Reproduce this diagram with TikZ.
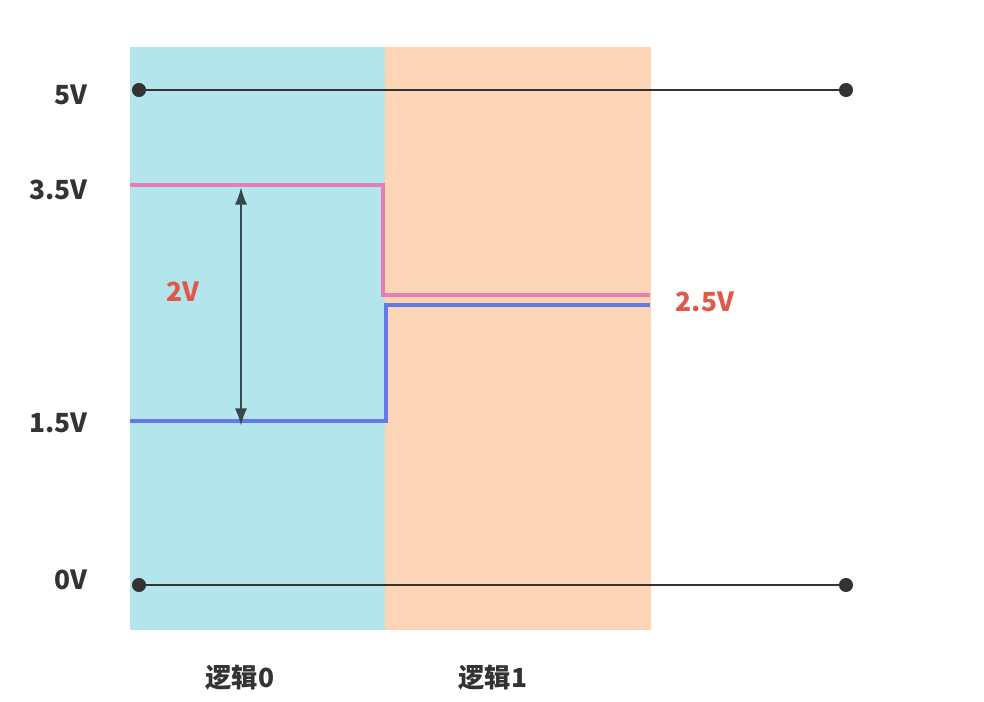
\documentclass[tikz,border=0pt]{standalone}
\usepackage{fontspec}
\setmainfont{Noto Sans CJK SC}
\usetikzlibrary{arrows.meta}
\definecolor{zonecyan}{HTML}{B3E5EC}
\definecolor{zoneorange}{HTML}{FBD5B5}
\definecolor{railgray}{HTML}{333333}
\definecolor{sigpink}{HTML}{E67DB3}
\definecolor{sigblue}{HTML}{6479E3}
\definecolor{labelred}{HTML}{E0584A}
\definecolor{spanslate}{HTML}{37474F}
\begin{document}
\begin{tikzpicture}[x=0.02cm,y=-0.02cm,line cap=round,line join=round]
  \tikzset{
    rail/.style={draw=railgray,line width=1.1pt},
    raildot/.style={circle,fill=railgray,inner sep=0pt,minimum size=8pt},
    level/.style={anchor=east,font=\bfseries\fontsize{15}{18}\selectfont,text=railgray},
    note/.style={font=\bfseries\fontsize{15}{18}\selectfont,text=labelred},
    zone/.style={font=\bfseries\fontsize{15}{18}\selectfont,text=railgray},
    signal/.style={line width=1.9pt,line cap=butt,line join=miter}
  }
  \useasboundingbox (0,0) rectangle (984,702);
  % background zones for the two logic levels
  \fill[zonecyan] (130,47) rectangle (385,630);
  \fill[zoneorange] (385,47) rectangle (651,630);
  % supply rails
  \node[raildot] (top-l) at (139,90) {};
  \node[raildot] (top-r) at (846,90) {};
  \node[raildot] (gnd-l) at (139,585) {};
  \node[raildot] (gnd-r) at (846,585) {};
  \draw[rail] (top-l) -- (top-r);
  \draw[rail] (gnd-l) -- (gnd-r);
  % voltage labels on the left
  \node[level] (v5) at (94,95) {5V};
  \node[level] (v35) at (94,190) {3.5V};
  \node[level] (v15) at (94,423) {1.5V};
  \node[level] (v0) at (94,580) {0V};
  % the two signal traces
  \coordinate (pink-a) at (130,185);
  \coordinate (pink-b) at (650,295);
  \coordinate (blue-a) at (130,421);
  \coordinate (blue-b) at (650,305);
  \draw[signal,sigpink] (pink-a) -- (383,185) |- (pink-b);
  \draw[signal,sigblue] (blue-a) -- (386,421) |- (blue-b);
  % swing between the two levels
  \coordinate (span-t) at (241,187);
  \coordinate (span-b) at (241,426);
  \draw[spanslate,line width=1.5pt,{Latex[length=10pt,width=7pt]}-{Latex[length=10pt,width=7pt]}] (span-t) -- (span-b);
  \node[note] (swing) at (183,292) {2V};
  \node[note] (mid) at (705,302) {2.5V};
  % zone captions
  \node[zone] (logic0) at (240,678) {逻辑0};
  \node[zone] (logic1) at (493,678) {逻辑1};
\end{tikzpicture}
\end{document}
